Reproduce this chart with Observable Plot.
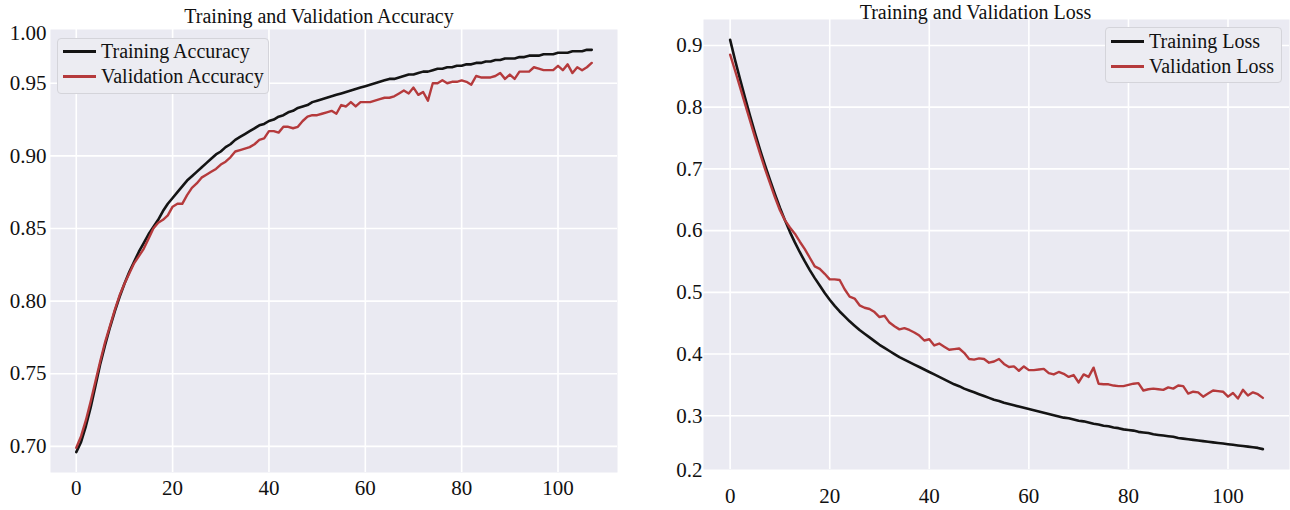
<!DOCTYPE html>
<html>
<head>
<meta charset="utf-8">
<script src="https://cdn.jsdelivr.net/npm/d3@7"></script>
<script src="https://cdn.jsdelivr.net/npm/@observablehq/plot@0.6"></script>
<style>
  html, body { margin: 0; padding: 0; background: #ffffff; }
  #wrap { position: relative; width: 1290px; height: 510px; overflow: hidden; font-family: "Liberation Serif", "Times New Roman", serif; }
  .panel { position: absolute; top: 0; }
  .legend { position: absolute; box-sizing: border-box; background: #ececf2; border: 1px solid #d4d4da; border-radius: 4px; font-size: 20px; color: #111; }
  .row { position: absolute; left: 0; height: 24px; display: flex; align-items: center; white-space: nowrap; }
  .sw { display: inline-block; width: 33px; height: 3px; margin-left: 5px; margin-right: 5px; }
</style>
</head>
<body>
<div id="wrap">
  <div id="left" class="panel" style="left:0px"></div>
  <div id="right" class="panel" style="left:640px"></div>
</div>
<script>
// ---------------- data ----------------
const epochs = d3.range(0, 108);

const trainAcc = [
  0.696, 0.703, 0.714, 0.727, 0.742, 0.757, 0.770, 0.782, 0.793, 0.803,
  0.812, 0.820, 0.827, 0.834, 0.840, 0.846, 0.851, 0.856, 0.862, 0.867,
  0.871, 0.875, 0.879, 0.883, 0.886, 0.889, 0.892, 0.895, 0.898, 0.901,
  0.903, 0.906, 0.908, 0.911, 0.913, 0.915, 0.917, 0.919, 0.921, 0.922,
  0.924, 0.925, 0.927, 0.928, 0.930, 0.931, 0.933, 0.934, 0.935, 0.937,
  0.938, 0.939, 0.940, 0.941, 0.942, 0.943, 0.944, 0.945, 0.946, 0.947,
  0.948, 0.949, 0.950, 0.951, 0.952, 0.953, 0.953, 0.954, 0.955, 0.956,
  0.956, 0.957, 0.958, 0.958, 0.959, 0.960, 0.960, 0.961, 0.961, 0.962,
  0.962, 0.963, 0.963, 0.964, 0.964, 0.965, 0.965, 0.966, 0.966, 0.967,
  0.967, 0.967, 0.968, 0.968, 0.969, 0.969, 0.969, 0.970, 0.970, 0.970,
  0.971, 0.971, 0.971, 0.972, 0.972, 0.972, 0.973, 0.973
];

const valAcc = [
  0.699, 0.707, 0.718, 0.731, 0.745, 0.759, 0.772, 0.783, 0.794, 0.804,
  0.812, 0.819, 0.826, 0.831, 0.836, 0.843, 0.850, 0.854, 0.856, 0.859,
  0.865, 0.867, 0.867, 0.873, 0.878, 0.881, 0.885, 0.887, 0.889, 0.891,
  0.894, 0.896, 0.899, 0.903, 0.904, 0.905, 0.906, 0.908, 0.911, 0.912,
  0.917, 0.917, 0.916, 0.920, 0.920, 0.919, 0.920, 0.924, 0.927, 0.928,
  0.928, 0.929, 0.930, 0.931, 0.929, 0.935, 0.934, 0.937, 0.934, 0.937,
  0.937, 0.937, 0.938, 0.939, 0.940, 0.940, 0.941, 0.943, 0.945, 0.943,
  0.947, 0.942, 0.944, 0.938, 0.950, 0.950, 0.952, 0.950, 0.951, 0.951,
  0.952, 0.951, 0.949, 0.955, 0.954, 0.954, 0.954, 0.955, 0.957, 0.953,
  0.956, 0.953, 0.958, 0.958, 0.958, 0.961, 0.960, 0.959, 0.959, 0.959,
  0.962, 0.959, 0.963, 0.957, 0.961, 0.959, 0.961, 0.964
];

const trainLoss = [
  0.909, 0.876, 0.845, 0.815, 0.786, 0.758, 0.731, 0.706, 0.682, 0.659,
  0.637, 0.617, 0.598, 0.581, 0.565, 0.550, 0.536, 0.523, 0.511, 0.499,
  0.488, 0.478, 0.469, 0.461, 0.453, 0.446, 0.439, 0.433, 0.427, 0.421,
  0.415, 0.410, 0.405, 0.400, 0.395, 0.391, 0.387, 0.383, 0.379, 0.375,
  0.371, 0.367, 0.363, 0.359, 0.355, 0.351, 0.348, 0.344, 0.341, 0.338,
  0.335, 0.332, 0.329, 0.326, 0.324, 0.321, 0.319, 0.317, 0.315, 0.313,
  0.311, 0.309, 0.307, 0.305, 0.303, 0.301, 0.299, 0.297, 0.296, 0.294,
  0.292, 0.291, 0.289, 0.287, 0.286, 0.284, 0.283, 0.281, 0.280, 0.278,
  0.277, 0.276, 0.274, 0.273, 0.272, 0.270, 0.269, 0.268, 0.267, 0.266,
  0.264, 0.263, 0.262, 0.261, 0.260, 0.259, 0.258, 0.257, 0.256, 0.255,
  0.254, 0.253, 0.252, 0.251, 0.250, 0.249, 0.248, 0.246
];

const valLoss = [
  0.885, 0.859, 0.832, 0.805, 0.778, 0.751, 0.725, 0.700, 0.677, 0.654,
  0.633, 0.617, 0.605, 0.595, 0.582, 0.570, 0.556, 0.542, 0.538, 0.530,
  0.521, 0.521, 0.520, 0.505, 0.493, 0.490, 0.479, 0.475, 0.473, 0.468,
  0.460, 0.462, 0.451, 0.445, 0.440, 0.442, 0.439, 0.435, 0.430, 0.422,
  0.424, 0.414, 0.417, 0.412, 0.407, 0.408, 0.409, 0.402, 0.392, 0.391,
  0.393, 0.392, 0.386, 0.388, 0.392, 0.384, 0.379, 0.380, 0.373, 0.380,
  0.374, 0.374, 0.375, 0.376, 0.369, 0.367, 0.371, 0.368, 0.363, 0.366,
  0.354, 0.367, 0.363, 0.378, 0.352, 0.351, 0.351, 0.349, 0.348, 0.348,
  0.350, 0.352, 0.353, 0.341, 0.343, 0.344, 0.343, 0.342, 0.346, 0.344,
  0.349, 0.348, 0.336, 0.339, 0.338, 0.331, 0.336, 0.341, 0.340, 0.339,
  0.331, 0.337, 0.328, 0.342, 0.333, 0.338, 0.335, 0.329
];

const xTicks = [0, 20, 40, 60, 80, 100];
const accTicks = [0.70, 0.75, 0.80, 0.85, 0.90, 0.95];
const accTopLabel = "1.00";
const lossTicks = [0.3, 0.4, 0.5, 0.6, 0.7, 0.8, 0.9];
const lossBottomLabel = "0.2";

const accTitle = "Training and Validation Accuracy";
const lossTitle = "Training and Validation Loss";
const accSeries = ["Training Accuracy", "Validation Accuracy"];
const lossSeries = ["Training Loss", "Validation Loss"];

// ---------------- style ----------------
const BG = "#eaeaf2";
const C_TRAIN = "#141414";
const C_VAL = "#b53a3c";
const FONT = "'Liberation Serif', 'Times New Roman', serif";

const accRows = epochs.map((e, i) => ({epoch: e, train: trainAcc[i], val: valAcc[i]}));
const lossRows = epochs.map((e, i) => ({epoch: e, train: trainLoss[i], val: valLoss[i]}));

function panel({rows, yDomain, yTicks, yFmt, title, extraLabel, extraAnchor, extraDy, extraDx,
                width, mL, mR, mT, mB, xPad, yPad, titleDx, titleDy}) {
  return Plot.plot({
    width, height: 510,
    marginLeft: mL, marginRight: mR, marginTop: mT, marginBottom: mB,
    style: {fontFamily: FONT, fontSize: "21px", color: "#111", background: "transparent"},
    x: {domain: [-5.35, 112.35], ticks: xTicks, tickFormat: d => String(d), tickSize: 0, tickPadding: xPad, label: null},
    y: {domain: yDomain, ticks: yTicks, tickFormat: yFmt, tickSize: 0, tickPadding: yPad, label: null},
    marks: [
      Plot.frame({fill: BG, stroke: null}),
      Plot.gridX(xTicks, {stroke: "#ffffff", strokeOpacity: 1, strokeWidth: 1.6}),
      Plot.gridY(yTicks, {stroke: "#ffffff", strokeOpacity: 1, strokeWidth: 1.6}),
      Plot.line(rows, {x: "epoch", y: "train", stroke: C_TRAIN, strokeWidth: 2.6, curve: "linear"}),
      Plot.line(rows, {x: "epoch", y: "val", stroke: C_VAL, strokeWidth: 2.4, curve: "linear"}),
      Plot.text([title], {frameAnchor: "top", lineAnchor: "middle", text: d => d, dx: titleDx, dy: titleDy, fontSize: 20, fill: "#111"}),
      Plot.text([extraLabel], {frameAnchor: extraAnchor, lineAnchor: "middle", text: d => d, textAnchor: "end", dx: extraDx, dy: extraDy, fontSize: 21, fill: "#111"})
    ]
  });
}

const left = panel({
  rows: accRows, yDomain: [0.682, 0.987], yTicks: accTicks, yFmt: d3.format(".2f"),
  title: accTitle, extraLabel: accTopLabel, extraAnchor: "top-left", extraDy: 4, extraDx: -4,
  width: 640, mL: 50, mR: 23, mT: 29, mB: 38, xPad: 8, yPad: 4, titleDx: -15, titleDy: -13
});
const right = panel({
  rows: lossRows, yDomain: [0.213, 0.942], yTicks: lossTicks, yFmt: d3.format(".1f"),
  title: lossTitle, extraLabel: lossBottomLabel, extraAnchor: "bottom-left", extraDy: 1, extraDx: -1,
  width: 650, mL: 63, mR: 1, mT: 19, mB: 41, xPad: 19, yPad: 1, titleDx: -21, titleDy: -7
});
document.getElementById("left").appendChild(left);
document.getElementById("right").appendChild(right);

// ---------------- legends ----------------
function legend(names, box, rowYs) {
  const wrap = document.getElementById("wrap");
  const div = document.createElement("div");
  div.className = "legend";
  div.style.left = box[0] + "px"; div.style.top = box[1] + "px";
  div.style.width = box[2] + "px"; div.style.height = box[3] + "px";
  names.forEach((n, i) => {
    const r = document.createElement("div");
    r.className = "row";
    r.style.top = (rowYs[i] - box[1] - 12) + "px";
    const sw = document.createElement("span");
    sw.className = "sw";
    sw.style.background = i === 0 ? C_TRAIN : C_VAL;
    const t = document.createElement("span");
    t.textContent = n;
    r.appendChild(sw); r.appendChild(t);
    div.appendChild(r);
  });
  wrap.appendChild(div);
}
legend(accSeries, [57, 38, 212, 56], [50, 75]);
legend(lossSeries, [1105, 27, 177, 56], [40, 65]);
</script>
</body>
</html>
